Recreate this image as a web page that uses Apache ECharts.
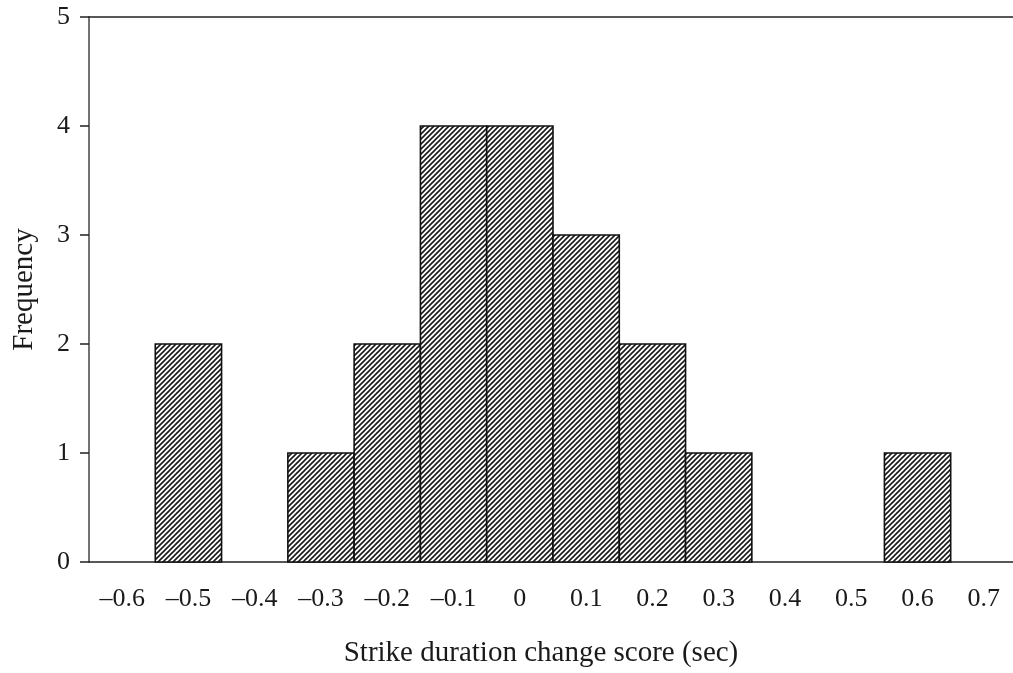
<!DOCTYPE html>
<html><head><meta charset="utf-8">
<script src="https://cdn.jsdelivr.net/npm/echarts@6/dist/echarts.min.js"></script>
<style>html,body{margin:0;padding:0;background:#fff}#c{width:1013px;height:673px}</style>
</head><body><div id="c"></div>
<script>
const binCenters = [-0.5, -0.3, -0.2, -0.1, 0, 0.1, 0.2, 0.3, 0.6];
const frequencies = [2, 1, 2, 4, 4, 3, 2, 1, 1];
const xTicks = [-0.6, -0.5, -0.4, -0.3, -0.2, -0.1, 0, 0.1, 0.2, 0.3, 0.4, 0.5, 0.6, 0.7];
const yTicks = [0, 1, 2, 3, 4, 5];
const binWidth = 0.1;

const pc = document.createElement('canvas');
pc.width = 5; pc.height = 5;
const g = pc.getContext('2d');
g.fillStyle = '#fff'; g.fillRect(0,0,5,5);
g.strokeStyle = '#1a1a1a'; g.lineWidth = 1.6;
g.beginPath();
g.moveTo(-1,6); g.lineTo(6,-1);
g.moveTo(-1,1); g.lineTo(1,-1);
g.moveTo(4,6); g.lineTo(6,4);
g.stroke();

const data = binCenters.map((x,i)=>[x, frequencies[i]]);
const font = '"Liberation Serif", "Times New Roman", serif';
const fmt = v => { const r = Math.round(v*10)/10; return r < 0 ? '\u2013' + Math.abs(r) : String(r); };

const chart = echarts.init(document.getElementById('c'));
chart.setOption({
  animation: false,
  backgroundColor: '#fff',
  grid: {left: 89, right: 0, top: 17, bottom: 111},
  xAxis: [{
    type: 'value', min: -0.65, max: 0.744,
    splitLine: {show: false},
    axisLine: {show: true, onZero: false, lineStyle: {color: '#222', width: 1.5}},
    axisTick: {show: false},
    axisLabel: {customValues: xTicks, formatter: fmt, fontFamily: font, fontSize: 26, color: '#1a1a1a', margin: 24},
    name: 'Strike duration change score (sec)', nameLocation: 'middle', nameGap: 77,
    nameTextStyle: {fontFamily: font, fontSize: 29, color: '#1a1a1a', padding: [0, 20, 0, 0]}
  }, {
    type: 'value', position: 'top', min: -0.65, max: 0.744,
    splitLine: {show: false},
    axisLine: {show: true, onZero: false, lineStyle: {color: '#222', width: 1.5}},
    axisTick: {show: false}, axisLabel: {show: false}
  }],
  yAxis: {
    type: 'value', min: 0, max: 5, interval: 1,
    splitLine: {show: false},
    axisLine: {show: true, onZero: false, lineStyle: {color: '#444', width: 1.5}},
    axisTick: {show: true, length: 9, lineStyle: {color: '#222', width: 1.5}},
    axisLabel: {customValues: yTicks, fontFamily: font, fontSize: 26, color: '#1a1a1a', margin: 19},
    name: 'Frequency', nameLocation: 'middle', nameGap: 50, nameRotate: 90,
    nameTextStyle: {fontFamily: font, fontSize: 29, color: '#1a1a1a'}
  },
  series: [{
    type: 'custom',
    data: data,
    encode: {x: 0, y: 1},
    renderItem: function(params, api){
      const x = api.value(0), y = api.value(1);
      const p1 = api.coord([x - binWidth/2, y]);
      const p2 = api.coord([x + binWidth/2, 0]);
      return {
        type: 'rect',
        shape: {x: p1[0], y: p1[1], width: p2[0]-p1[0], height: p2[1]-p1[1]},
        style: {fill: {image: pc, repeat: 'repeat'}, stroke: '#111', lineWidth: 1.6}
      };
    }
  }]
});
</script></body></html>
